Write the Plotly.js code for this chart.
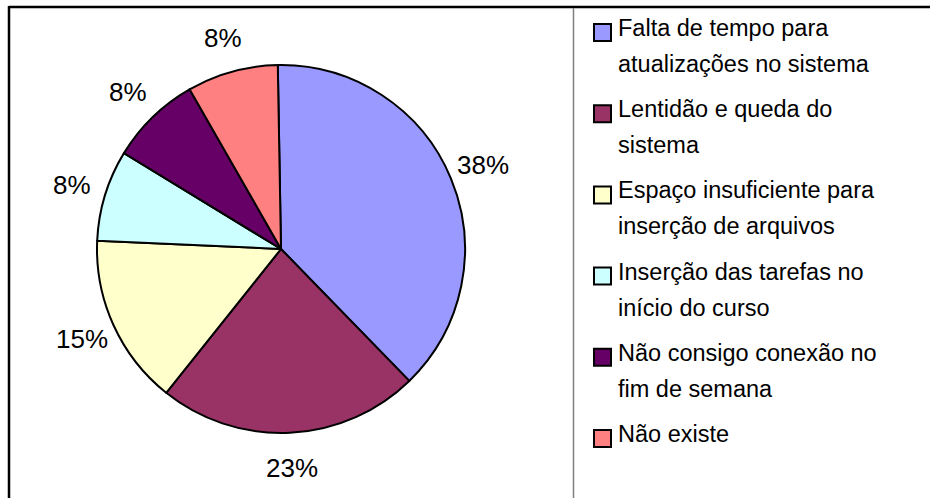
<!DOCTYPE html>
<html>
<head>
<meta charset="utf-8">
<script src="https://cdn.plot.ly/plotly-3.0.1.min.js"></script>
<style>
html,body{margin:0;padding:0;background:#fff;}
#chart{width:930px;height:498px;}
</style>
</head>
<body>
<div id="chart"></div>
<script>
// ---- data ----
var labels = [
  "Falta de tempo para atualizações no sistema",
  "Lentidão e queda do sistema",
  "Espaço insuficiente para inserção de arquivos",
  "Inserção das tarefas no início do curso",
  "Não consigo conexão no fim de semana",
  "Não existe"
];
var legendLines = [
  ["Falta de tempo para", "atualizações no sistema"],
  ["Lentidão e queda do", "sistema"],
  ["Espaço insuficiente para", "inserção de arquivos"],
  ["Inserção das tarefas no", "início do curso"],
  ["Não consigo conexão no", "fim de semana"],
  ["Não existe"]
];
var values = [38, 23, 15, 8, 8, 8];
var colors = ["#9999FF", "#993366", "#FFFFCC", "#CCFFFF", "#660066", "#FF8080"];

// ---- layout helpers ----
var W = 930, H = 498;
var FONT = "Liberation Sans, Arial, sans-serif";
function px(x){ return x / W; }
function py(y){ return 1 - y / H; }

var cx = 281, cy = 249, r = 184;
var rotationDeg = -1;
var labelDist = 219;

var trace = {
  type: "pie",
  labels: labels,
  values: values,
  sort: false,
  direction: "clockwise",
  rotation: rotationDeg,
  marker: {colors: colors, line: {color: "#000000", width: 2}},
  textinfo: "none",
  hoverinfo: "label+percent",
  showlegend: false,
  domain: {x: [px(cx - r), px(cx + r)], y: [py(cy + r), py(cy - r)]}
};

var shapes = [
  // outer frame
  {type: "line", xref: "paper", yref: "paper", x0: px(9), x1: px(930), y0: py(7), y1: py(7), line: {color: "#000", width: 2.5}},
  {type: "line", xref: "paper", yref: "paper", x0: px(9), x1: px(9), y0: py(6), y1: py(498), line: {color: "#000", width: 2.5}},
  // divider between plot and legend
  {type: "line", xref: "paper", yref: "paper", x0: px(573.5), x1: px(573.5), y0: py(8), y1: py(498), line: {color: "#808080", width: 1.5}}
];
var annotations = [];

// percentage labels outside each slice, at the slice's mid angle
var total = values.reduce(function(a, b){ return a + b; }, 0);
var cum = 0;
for (var k = 0; k < values.length; k++) {
  var mid = (cum + values[k] / 2) / total * 2 * Math.PI + rotationDeg * Math.PI / 180;
  cum += values[k];
  annotations.push({
    xref: "paper", yref: "paper",
    x: px(cx + labelDist * Math.sin(mid)),
    y: py(cy - labelDist * Math.cos(mid)),
    xanchor: "center", yanchor: "middle",
    text: Math.round(values[k] / total * 100) + "%",
    showarrow: false,
    font: {family: FONT, size: 26, color: "#000"}
  });
}

// legend
var FS = 23.5;
for (var i = 0; i < legendLines.length; i++) {
  var base = 37 + i * 81.2;
  shapes.push({
    type: "rect", xref: "paper", yref: "paper",
    x0: px(594), x1: px(611), y0: py(base + 4), y1: py(base - 13),
    fillcolor: colors[i], line: {color: "#000", width: 2}
  });
  for (var j = 0; j < legendLines[i].length; j++) {
    annotations.push({
      xref: "paper", yref: "paper",
      x: px(616), y: py(base + j * 36 - 9),
      xanchor: "left", yanchor: "middle",
      text: legendLines[i][j], showarrow: false,
      font: {family: FONT, size: FS, color: "#000"}
    });
  }
}

var layout = {
  width: W, height: H,
  margin: {l: 0, r: 0, t: 0, b: 0},
  paper_bgcolor: "#ffffff",
  plot_bgcolor: "#ffffff",
  shapes: shapes,
  annotations: annotations,
  showlegend: false
};

Plotly.newPlot("chart", [trace], layout, {displayModeBar: false, staticPlot: true});
</script>
</body>
</html>
